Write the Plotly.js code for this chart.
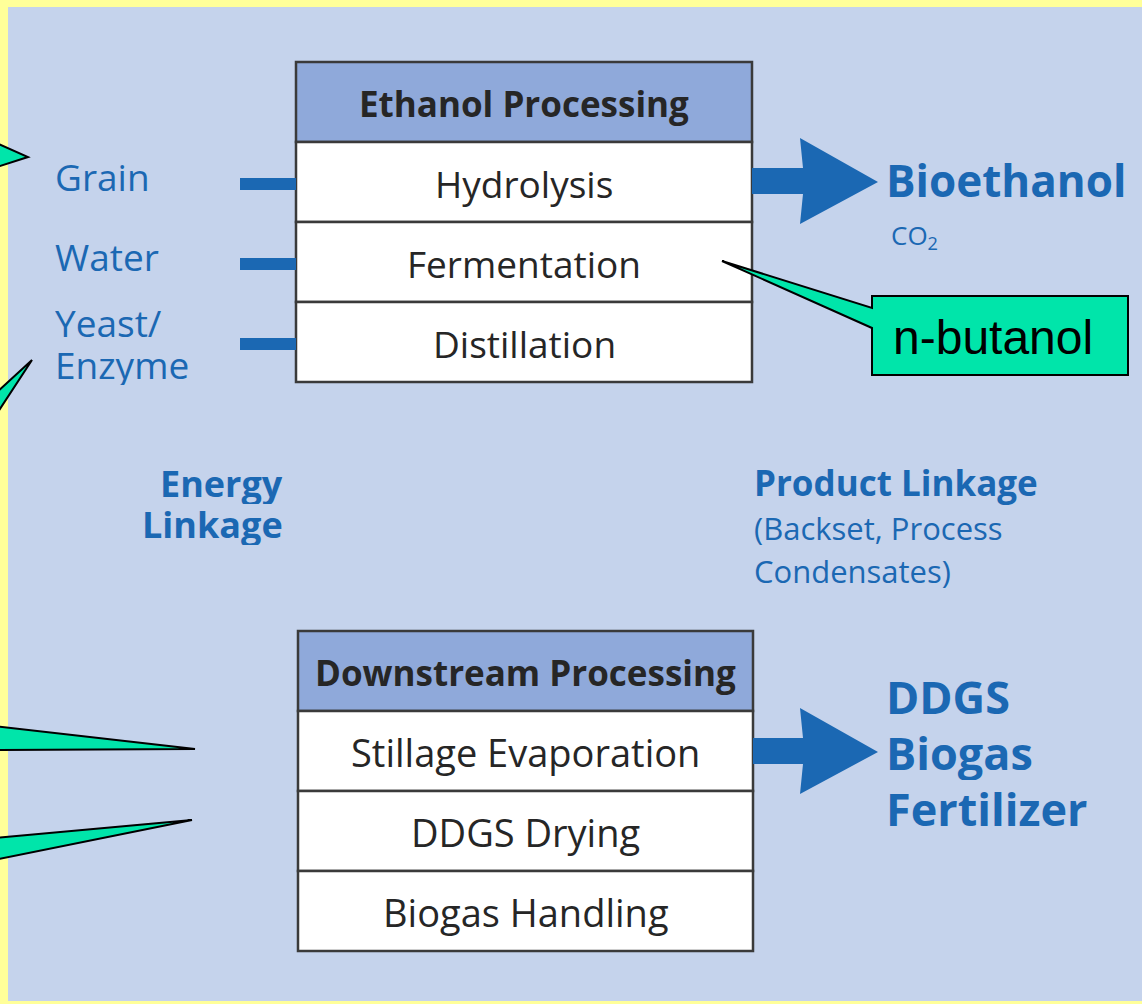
<!DOCTYPE html>
<html><head><meta charset="utf-8">
<script src="https://cdn.plot.ly/plotly-3.0.1.min.js"></script>
<style>html,body{margin:0;padding:0;background:#FFFF99;overflow:hidden}</style>
</head><body><div id="chart" style="width:1142px;height:1004px"></div>
<script>
// ---- content ----
const ethanolHeader = "Ethanol Processing";
const ethanolSteps = ["Hydrolysis", "Fermentation", "Distillation"];
const downstreamHeader = "Downstream Processing";
const downstreamSteps = ["Stillage Evaporation", "DDGS Drying", "Biogas Handling"];
const inputLines = [["Grain"], ["Water"], ["Yeast/", "Enzyme"]];
const ethanolProducts = ["Bioethanol"];
const ethanolByproducts = ["CO<sub>2</sub>"];
const downstreamProducts = ["DDGS", "Biogas", "Fertilizer"];
const energyLinkage = ["Energy", "Linkage"];
const productLinkage = ["Product Linkage"];
const productLinkageNote = ["(Backset, Process", "Condensates)"];
const calloutLabel = ["n-butanol"];

// ---- geometry & styles ----
const W = 1142, H = 1004;
const BLUE = "#1B68B3", TXT = "#262626", EDGE = "#3a3a3a";
const HEADFILL = "#8FA9DA", PANEL = "#C5D3EC", GREEN = "#00E5AA";
const FONT = "Open Sans, sans-serif";
const box1 = {x0: 296, x1: 752, top: 62, row: 80, hsize: 35, ssize: 37};
const box2 = {x0: 298, x1: 753, top: 631, row: 80, hsize: 35, ssize: 38};

const shapes = [];
const ann = [];

shapes.push({type: "rect", xref: "x", yref: "y", x0: 8, x1: W + 5, y0: 7, y1: 1001,
  fillcolor: PANEL, line: {width: 0}, layer: "below"});

function processBox(b, header, steps) {
  shapes.push({type: "rect", x0: b.x0, x1: b.x1, y0: b.top, y1: b.top + b.row,
    fillcolor: HEADFILL, line: {color: EDGE, width: 2.5}});
  ann.push({x: (b.x0 + b.x1) / 2, y: b.top + b.row / 2 + 1, text: "<b>" + header + "</b>",
    font: {family: FONT, size: b.hsize, color: TXT}});
  steps.forEach((s, i) => {
    const y0 = b.top + b.row * (i + 1);
    shapes.push({type: "rect", x0: b.x0, x1: b.x1, y0: y0, y1: y0 + b.row,
      fillcolor: "#FFFFFF", line: {color: EDGE, width: 2.5}});
    ann.push({x: (b.x0 + b.x1) / 2, y: y0 + b.row / 2 + 1, text: s,
      font: {family: FONT, size: b.ssize, color: TXT}});
  });
}
processBox(box1, ethanolHeader, ethanolSteps);
processBox(box2, downstreamHeader, downstreamSteps);

// input bars
ethanolSteps.forEach((s, i) => {
  const yc = box1.top + box1.row * (i + 1) + box1.row / 2 + 2;
  shapes.push({type: "rect", x0: 240, x1: box1.x0, y0: yc - 6, y1: yc + 6,
    fillcolor: BLUE, line: {width: 0}});
});

// arrows
function arrow(xs, yc) {
  const p = `M ${xs},${yc - 13} L 803,${yc - 13} L 800,${yc - 43} L 878,${yc + 1} L 800,${yc + 43} L 803,${yc + 13} L ${xs},${yc + 13} Z`;
  shapes.push({type: "path", path: p, fillcolor: BLUE, line: {width: 0}});
}
arrow(box1.x1, 181);
arrow(box2.x1, 751);

// callouts
function tri(p) { shapes.push({type: "path", path: p, fillcolor: GREEN, line: {color: "#000", width: 2}}); }
tri("M -6,142 L 28,157 L -6,168 Z");
tri("M -6,395 L 32,360 L -6,418 Z");
tri("M -6,726 L 195,749 L -6,750 Z");
tri("M -6,838 L 192,820 L -6,860 Z");
// n-butanol callout box + pointer
shapes.push({type: "path", path: "M 872,296 L 1128,296 L 1128,375 L 872,375 L 872,328 L 722,261 L 872,308 Z",
  fillcolor: GREEN, line: {color: "#000", width: 2}});
ann.push({x: 993, y: 337, text: calloutLabel[0], font: {family: "Liberation Sans, Arial, sans-serif", size: 48, color: "#000"}});

// blue texts
function blueText(lines, x, y0, dy, size, bold, anchor) {
  lines.forEach((t, i) => {
    const a = {x: x, y: y0 + i * dy, text: bold ? "<b>" + t + "</b>" : t,
      xanchor: anchor, font: {family: FONT, size: size, color: BLUE}};
    if (lines.length > 1) a.height = dy;
    ann.push(a);
  });
}
const inputY = [176, 256, 322];
inputLines.forEach((l, i) => blueText(l, 53, inputY[i], 42, 37, false, "left"));
blueText(energyLinkage, 285, 483, 41, 36, true, "right");
blueText(productLinkage, 752, 482, 0, 35, true, "left");
blueText(productLinkageNote, 752, 527, 43, 31, false, "left");
blueText(ethanolProducts, 884, 180, 0, 44, true, "left");
blueText(ethanolByproducts, 889, 236, 0, 26, false, "left");
blueText(downstreamProducts, 884, 696, 56, 45, true, "left");

ann.forEach(a => { a.xref = "x"; a.yref = "y"; a.showarrow = false; if (!a.xanchor) a.xanchor = "center"; a.yanchor = "middle"; });
shapes.forEach(s => { s.xref = "x"; s.yref = "y"; });

Plotly.newPlot("chart", [], {
  width: W, height: H, margin: {l: 0, r: 0, t: 0, b: 0},
  paper_bgcolor: "#FFFF99", plot_bgcolor: "rgba(0,0,0,0)",
  xaxis: {range: [0, W], visible: false, fixedrange: true},
  yaxis: {range: [H, 0], visible: false, fixedrange: true},
  shapes: shapes, annotations: ann, showlegend: false
}, {displayModeBar: false, staticPlot: true});
</script></body></html>
